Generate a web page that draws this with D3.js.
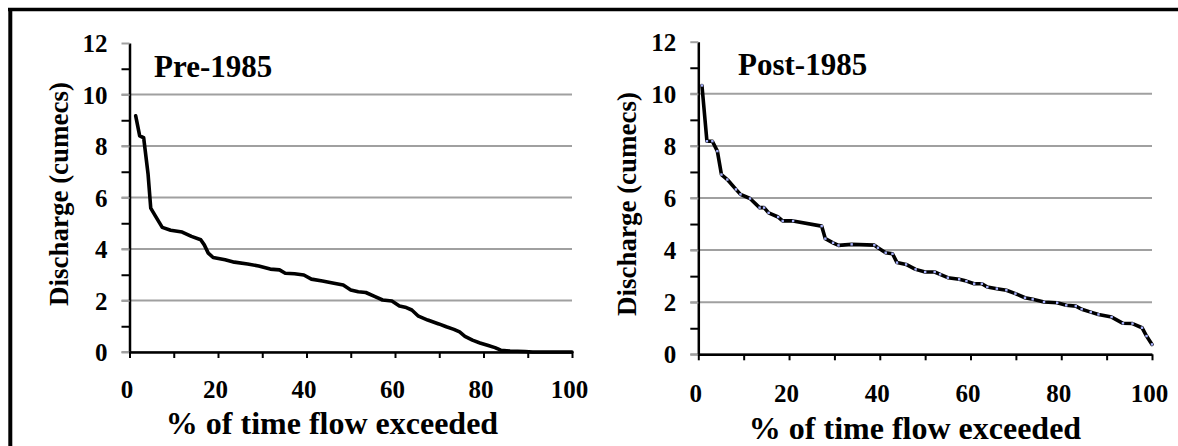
<!DOCTYPE html><html><head><meta charset="utf-8">
<script src="https://cdn.jsdelivr.net/npm/d3@7"></script>
</head>
<body style="margin:0;background:#fff"><svg id="chart" width="1178" height="446" style="display:block"></svg>
<script>

// pre-1985 flow duration curve
var preExceed = [1.4, 2.3, 3.2, 4.2, 4.8, 5.9, 7.4, 9.3, 11.9, 14, 16.1, 16.9, 17.8, 18.9, 21.6, 23.7, 26.7, 29.2,
                 31.8, 33.9, 35.2, 37.3, 39.4, 41.1, 43.6, 46.2, 48.3, 50, 51.7, 53.4, 55.5, 57.2, 59.3, 61, 62.3,
                 63.8, 65.3, 67.4, 69.9, 71.6, 73.3, 74.6, 75.8, 77.5, 79.2, 80.9, 82.6, 83.9, 86, 89.4, 91.1, 100];
var preFlow = [9.17, 8.39, 8.32, 6.9, 5.59, 5.27, 4.84, 4.73, 4.66, 4.49, 4.36, 4.16, 3.84, 3.67, 3.58, 3.49, 3.42, 3.34,
               3.22, 3.19, 3.06, 3.04, 2.99, 2.83, 2.76, 2.67, 2.6, 2.41, 2.34, 2.31, 2.15, 2.02, 1.98, 1.79, 1.74,
               1.63, 1.39, 1.24, 1.09, 0.98, 0.88, 0.78, 0.61, 0.46, 0.35, 0.26, 0.17, 0.07, 0.04, 0.02, 0, 0];

// post-1985
var postExceed = [0.8, 1.9, 3.1, 4.2, 5.1, 6.4, 8.3, 9.3, 11.4, 13.5, 14.5, 15.5, 17.6, 18.6, 20.9, 27.2, 28, 29.7,
                  30.9, 33.8, 38.8, 39.6, 41.3, 42.8, 43.8, 45.8, 47.9, 50, 52.1, 53.3, 55, 57.5, 59.1, 60.8, 62.5,
                  63.7, 65.8, 67.9, 69.9, 72, 73.7, 76.2, 79.1, 81.1, 83.2, 84.5, 86.5, 88.2, 91.1, 93.6, 95.7,
                  97.8, 98.8, 100];
var postFlow = [10.32, 8.18, 8.18, 7.8, 6.9, 6.71, 6.33, 6.14, 5.98, 5.63, 5.63, 5.43, 5.27, 5.12, 5.12, 4.92, 4.44, 4.28,
                4.18, 4.22, 4.19, 4.09, 3.9, 3.86, 3.52, 3.45, 3.26, 3.16, 3.16, 3.07, 2.94, 2.88, 2.81, 2.71, 2.71,
                2.58, 2.52, 2.46, 2.33, 2.17, 2.11, 2.01, 1.98, 1.88, 1.85, 1.73, 1.62, 1.53, 1.43, 1.19, 1.18,
                1.02, 0.7, 0.38];

var yTicks = [0, 1, 2, 3, 4, 5, 6, 7, 8, 9, 10, 11, 12],
    yGrid = [0, 2, 4, 6, 8, 10],
    xTicks = [0, 10, 20, 30, 40, 50, 60, 70, 80, 90, 100];

var xTitle = "% of time flow exceeded",
    yTitle = "Discharge (cumecs)";

var font = "'Liberation Serif', 'Times New Roman', Times, serif";

var svg = d3.select("#chart");

// frame (only top and left edges show)
svg.append("line").attr("x1", 8).attr("x2", 1178).attr("y1", 9.5).attr("y2", 9.5)
   .attr("stroke", "#000").attr("stroke-width", 3.5);
svg.append("line").attr("x1", 10.3).attr("x2", 10.3).attr("y1", 8).attr("y2", 446)
   .attr("stroke", "#000").attr("stroke-width", 4);

function txt(sel, size) {
	return sel.style("font-family", font).style("font-weight", "bold")
		.style("font-size", size + "px").attr("fill", "#000");
}

function drawPanel(p) {
	var x = d3.scaleLinear().domain([0, 100]).range([p.left, p.right]);
	var y = d3.scaleLinear().domain([0, 12]).range([p.bottom, p.top]);
	var g = svg.append("g");

	// gridlines
	g.selectAll(".grid").data(yGrid).enter().append("line")
		.attr("x1", p.left - 8).attr("x2", p.right)
		.attr("y1", function(d) { return y(d); }).attr("y2", function(d) { return y(d); })
		.attr("stroke", "#a0a0a0").attr("stroke-width", 2);

	// y axis
	var ya = g.append("g").attr("transform", "translate(" + p.left + ",0)")
		.call(d3.axisLeft(y).tickValues(yTicks).tickSize(8).tickSizeOuter(0).tickPadding(14)
			.tickFormat(function(d) { return d % 2 == 0 ? d : ""; }));
	ya.select(".domain").attr("stroke", "#000").attr("stroke-width", 2.5);
	ya.selectAll(".tick line")
		.attr("stroke", function(d) { return d % 2 == 0 ? "#a0a0a0" : "#000"; })
		.attr("stroke-width", 2);
	txt(ya.selectAll(".tick text"), 25).attr("dy", "0.34em");

	// x axis
	var xa = g.append("g").attr("transform", "translate(0," + p.bottom + ")")
		.call(d3.axisBottom(x).tickValues(xTicks).tickSize(6).tickSizeOuter(0)
			.tickFormat(function(d) { return d % 20 == 0 ? d : ""; }));
	xa.select(".domain").attr("stroke", "#000").attr("stroke-width", 2.5);
	xa.selectAll(".tick line").attr("stroke", "#000").attr("stroke-width", 2);
	txt(xa.selectAll(".tick text"), 25)
		.attr("y", p.xLabelDy).attr("dy", 0).attr("x", -3);

	// curve
	var pts = p.xs.map(function(d, i) { return [d, p.ys[i]]; });
	var line = d3.line().x(function(d) { return x(d[0]); }).y(function(d) { return y(d[1]); });
	g.append("path").datum(pts)
		.attr("d", line)
		.attr("fill", "none")
		.attr("stroke", "#000")
		.attr("stroke-width", 3.6)
		.attr("stroke-linejoin", "round")
		.attr("stroke-linecap", "round");

	if (p.markers) {
		g.selectAll(".mk").data(pts).enter().append("rect")
			.attr("x", function(d) { return x(d[0]) - 1.2; })
			.attr("y", function(d) { return y(d[1]) - 1.2; })
			.attr("width", 2.4).attr("height", 2.4)
			.attr("fill", "#a9b3ff");
	}

	// labels
	txt(g.append("text").text(p.title), 31)
		.attr("x", p.titleX).attr("y", p.titleY);
	txt(g.append("text").text(yTitle), 27)
		.attr("transform", "translate(" + p.yTitleX + "," + p.yTitleY + ") rotate(-90)")
		.style("text-anchor", "middle");
	txt(g.append("text").text(xTitle), 32)
		.attr("x", p.xTitleX).attr("y", p.xTitleY)
		.style("text-anchor", "middle");
}

drawPanel({ left: 129.5, right: 572, top: 43, bottom: 352, xLabelDy: 46,
	title: "Pre-1985", titleX: 154, titleY: 77,
	yTitleX: 68, yTitleY: 194, xTitleX: 332, xTitleY: 434,
	xs: preExceed, ys: preFlow, markers: false });

drawPanel({ left: 698.3, right: 1152, top: 41.7, bottom: 354.3, xLabelDy: 48,
	title: "Post-1985", titleX: 738, titleY: 75,
	yTitleX: 636, yTitleY: 204, xTitleX: 915, xTitleY: 439,
	xs: postExceed, ys: postFlow, markers: true });

</script>
</body></html>
